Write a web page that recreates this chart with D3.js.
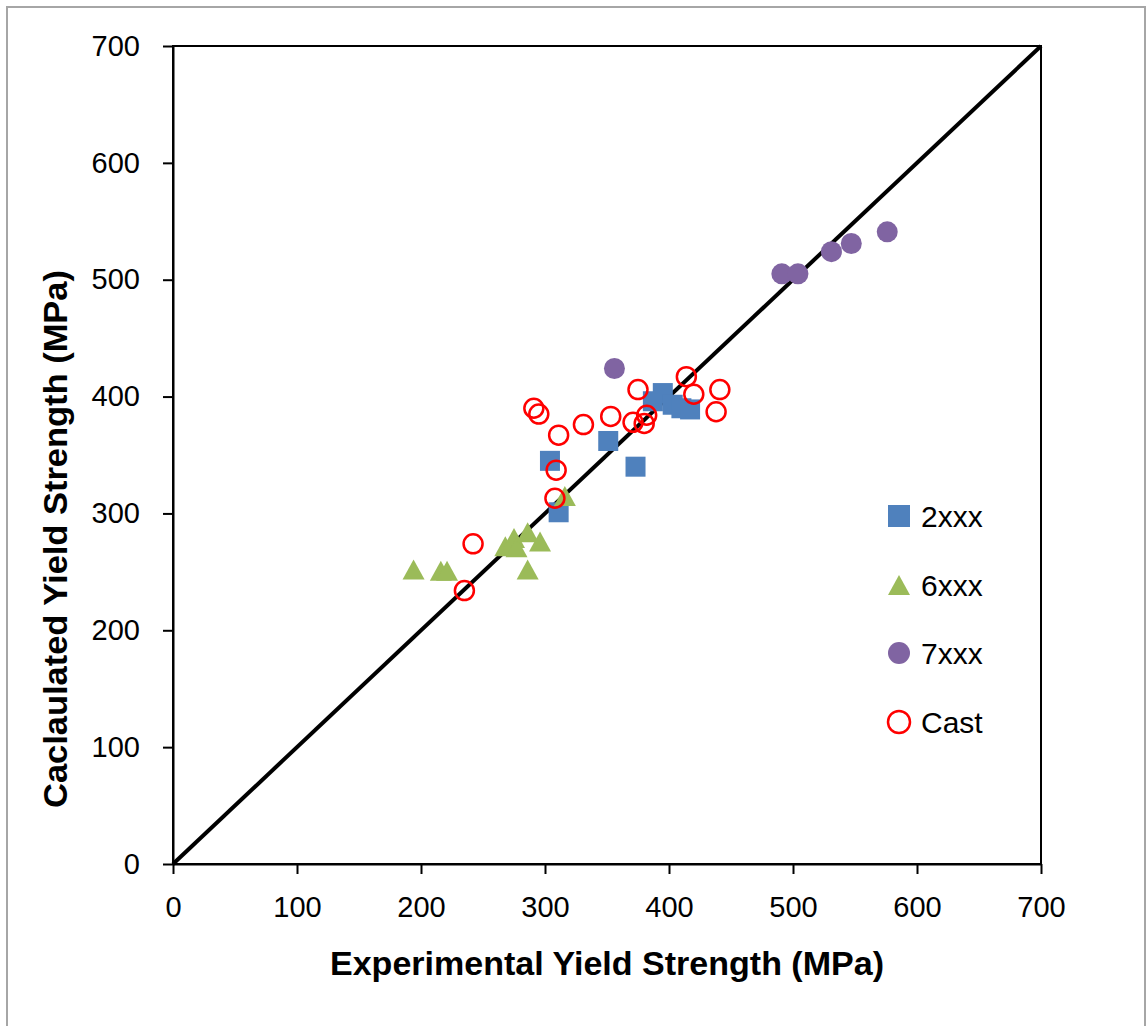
<!DOCTYPE html>
<html>
<head>
<meta charset="utf-8">
<script src="https://cdn.jsdelivr.net/npm/d3@7"></script>
<style>
  body { margin: 0; background: #fff; }
  svg text { font-family: "Liberation Sans", Arial, sans-serif; fill: #000; }
</style>
</head>
<body>
<div id="chart"></div>
<script>
// values
let xTicks = [0, 100, 200, 300, 400, 500, 600, 700];
let yTicks = [0, 100, 200, 300, 400, 500, 600, 700];

let x2xxx = [304, 351, 373, 311, 387, 395, 403, 410, 417];
let y2xxx = [345, 362, 340, 301, 396, 403, 393, 390, 389];

let x6xxx = [194, 216, 221, 286, 268, 275, 277, 286, 296, 316];
let y6xxx = [252, 251, 251, 252, 272, 279, 271, 284, 276, 315];

let x7xxx = [356, 491, 504, 531, 547, 576];
let y7xxx = [424, 505, 505, 524, 531, 541];

let xCast = [235, 242, 308, 309, 311, 291, 295, 331, 353, 371, 375, 380, 382, 414, 420, 441, 438];
let yCast = [234, 274, 313, 337, 367, 390, 385, 376, 383, 378, 406, 377, 384, 417, 402, 406, 387];

let legendNames = ['2xxx', '6xxx', '7xxx', 'Cast'];

let blue = '#4F81BD', green = '#9BBB59', purple = '#8064A2', red = '#FF0000';

let width = 1146, height = 1026;

let svg = d3.select('#chart').append('svg')
    .attr('width', width)
    .attr('height', height);

// outer frame
svg.append('rect')
    .attr('x', 7).attr('y', 7)
    .attr('width', 1138).attr('height', 1040)
    .attr('fill', 'none')
    .attr('stroke', '#a6a6a6')
    .attr('stroke-width', 2);

let x = d3.scaleLinear().domain([0, 700]).range([173, 1041]);
let y = d3.scaleLinear().domain([0, 700]).range([864, 46]);

// 1:1 line under the markers
svg.append('line')
    .attr('x1', x(0)).attr('y1', y(0))
    .attr('x2', x(700)).attr('y2', y(700))
    .attr('stroke', '#000')
    .attr('stroke-width', 4);

// plot box
svg.append('rect')
    .attr('x', x(0)).attr('y', y(700))
    .attr('width', x(700) - x(0)).attr('height', y(0) - y(700))
    .attr('fill', 'none')
    .attr('stroke', '#000')
    .attr('stroke-width', 2);

let xAxis = svg.append('g')
    .attr('transform', 'translate(0,' + y(0) + ')')
    .call(d3.axisBottom(x).tickValues(xTicks).tickSize(10).tickSizeOuter(0).tickPadding(22));
let yAxis = svg.append('g')
    .attr('transform', 'translate(' + x(0) + ',0)')
    .call(d3.axisLeft(y).tickValues(yTicks).tickSize(10).tickSizeOuter(0).tickPadding(23));

[xAxis, yAxis].forEach(function(a){
  a.select('.domain').attr('stroke', '#000').attr('stroke-width', 2);
  a.selectAll('.tick line').attr('stroke', '#000').attr('stroke-width', 2);
  a.selectAll('.tick text').attr('font-size', 29).style('font-family', '"Liberation Sans", Arial, sans-serif');
});

// markers
function pts(xs, ys){ return xs.map(function(v, i){ return [v, ys[i]]; }); }

let sq = 20;
svg.append('g').selectAll('rect')
    .data(pts(x2xxx, y2xxx))
    .enter().append('rect')
    .attr('x', d => x(d[0]) - sq / 2)
    .attr('y', d => y(d[1]) - sq / 2)
    .attr('width', sq).attr('height', sq)
    .attr('fill', blue);

function triPath(cx, cy){
  return 'M' + (cx - 11) + ',' + (cy + 10) + 'L' + cx + ',' + (cy - 10) + 'L' + (cx + 11) + ',' + (cy + 10) + 'Z';
}
svg.append('g').selectAll('path')
    .data(pts(x6xxx, y6xxx))
    .enter().append('path')
    .attr('d', d => triPath(x(d[0]), y(d[1])))
    .attr('fill', green);

svg.append('g').selectAll('circle')
    .data(pts(x7xxx, y7xxx))
    .enter().append('circle')
    .attr('cx', d => x(d[0])).attr('cy', d => y(d[1]))
    .attr('r', 10.5)
    .attr('fill', purple);

svg.append('g').selectAll('circle')
    .data(pts(xCast, yCast))
    .enter().append('circle')
    .attr('cx', d => x(d[0])).attr('cy', d => y(d[1]))
    .attr('r', 9.5)
    .attr('fill', 'none')
    .attr('stroke', red)
    .attr('stroke-width', 2.5);

// legend
let legY = [516, 585, 653, 722];
let lx = 899;
let leg = svg.append('g');
leg.append('rect').attr('x', lx - 11).attr('y', legY[0] - 11).attr('width', 22).attr('height', 22).attr('fill', blue);
leg.append('path').attr('d', triPath(lx, legY[1])).attr('fill', green);
leg.append('circle').attr('cx', lx).attr('cy', legY[2]).attr('r', 11).attr('fill', purple);
leg.append('circle').attr('cx', lx).attr('cy', legY[3]).attr('r', 11).attr('fill', 'none').attr('stroke', red).attr('stroke-width', 2.5);
leg.selectAll('text')
    .data(legendNames)
    .enter().append('text')
    .attr('x', 921)
    .attr('y', (d, i) => legY[i] + 11)
    .attr('font-size', 30)
    .text(d => d);

// axis titles
svg.append('text')
    .attr('x', 607).attr('y', 975)
    .attr('text-anchor', 'middle')
    .attr('font-size', 33)
    .attr('font-weight', 'bold')
    .attr('textLength', 554)
    .attr('lengthAdjust', 'spacingAndGlyphs')
    .text('Experimental Yield Strength (MPa)');

svg.append('text')
    .attr('transform', 'translate(67,539) rotate(-90)')
    .attr('text-anchor', 'middle')
    .attr('font-size', 33)
    .attr('font-weight', 'bold')
    .attr('textLength', 538)
    .attr('lengthAdjust', 'spacingAndGlyphs')
    .text('Caclaulated Yield Strength (MPa)');
</script>
</body>
</html>
